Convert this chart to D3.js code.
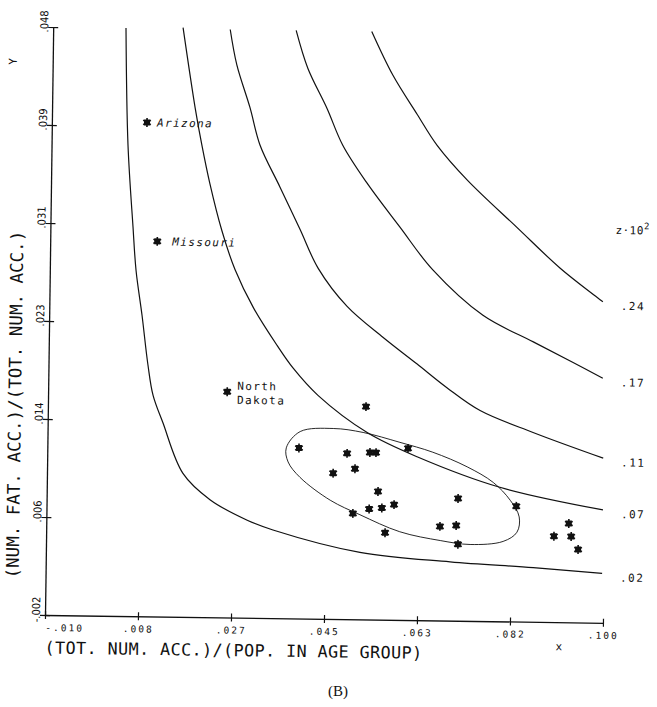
<!DOCTYPE html>
<html>
<head>
<meta charset="utf-8">
<script src="https://cdn.jsdelivr.net/npm/d3@7"></script>
<style>
  body { margin: 0; background: #fff; }
  text { fill: #111; }
</style>
</head>
<body>
<svg id="chart" width="657" height="707"></svg>
<script>
// axis ticks
const xTicks = [-0.010, 0.00833, 0.02667, 0.045, 0.06333, 0.08167, 0.100]
const xTickLabels = ['-.010', '.008', '.027', '.045', '.063', '.082', '.100']
const yTicks = [-0.002, 0.00633, 0.01467, 0.023, 0.03133, 0.03967, 0.048]
const yTickLabels = ['-.002', '.006', '.014', '.023', '.031', '.039', '.048']

// named states
const states = [
    { name: 'Arizona', x: 0.00875, y: 0.0400 },
    { name: 'Missouri', x: 0.0111, y: 0.0299 },
    { name: 'North|Dakota', x: 0.0253, y: 0.0172 },
]

// remaining states (x, y)
const others = [
    [0.0527, 0.0161], [0.0396, 0.0125], [0.0491, 0.0121], [0.0536, 0.0122],
    [0.0548, 0.0122], [0.0611, 0.0126], [0.0464, 0.0104], [0.0507, 0.0108],
    [0.0553, 0.0089], [0.0711, 0.0084], [0.0826, 0.0078], [0.0536, 0.0074],
    [0.0561, 0.0075], [0.0585, 0.0078], [0.0504, 0.0070], [0.0568, 0.0054],
    [0.0676, 0.0060], [0.0708, 0.0061], [0.0712, 0.0045], [0.0930, 0.0064],
    [0.0901, 0.0053], [0.0935, 0.0053], [0.0949, 0.0042],
]

// contour lines of z*10^2
const contourLevels = ['.02', '.07', '.11', '.17', '.24']
const contourLines = [
    [[0.00435, 0.0480], [0.00506, 0.0381], [0.00628, 0.0311], [0.0070, 0.0274], [0.0083, 0.0236],
     [0.0096, 0.0194], [0.0107, 0.0168], [0.0127, 0.0145], [0.0168, 0.0102], [0.0222, 0.0080],
     [0.0296, 0.0063], [0.0347, 0.0055], [0.0519, 0.0037], [0.0697, 0.0030], [0.0861, 0.0026],
     [0.0997, 0.0022]],
    [[0.0156, 0.0481], [0.0182, 0.0413], [0.0196, 0.0382], [0.0213, 0.0349], [0.0238, 0.0309],
     [0.0265, 0.0276], [0.0302, 0.0244], [0.0350, 0.0212], [0.0382, 0.0193], [0.0432, 0.0170],
     [0.0530, 0.0139], [0.0629, 0.0119], [0.0793, 0.0094], [0.0997, 0.0076]],
    [[0.0249, 0.0480], [0.0263, 0.0450], [0.0290, 0.0414], [0.0311, 0.0382], [0.0351, 0.0347],
     [0.0392, 0.0311], [0.0429, 0.0278], [0.0487, 0.0246], [0.0559, 0.0220], [0.0626, 0.0198],
     [0.0686, 0.0178], [0.0752, 0.0159], [0.0857, 0.0141], [0.0996, 0.0120]],
    [[0.0379, 0.0480], [0.0403, 0.0448], [0.0442, 0.0414], [0.0474, 0.0383], [0.0523, 0.0351],
     [0.0589, 0.0314], [0.0655, 0.0278], [0.0755, 0.0240], [0.0855, 0.0218], [0.0934, 0.0201],
     [0.0993, 0.0188]],
    [[0.0528, 0.0480], [0.0571, 0.0443], [0.0620, 0.0410], [0.0660, 0.0384], [0.0720, 0.0355],
     [0.0820, 0.0315], [0.0906, 0.0281], [0.0991, 0.0253]],
]

// confidence ellipse outline
const ellipse = [
    [0.0371, 0.0125], [0.0398, 0.0139], [0.0463, 0.0142], [0.0522, 0.0139], [0.0595, 0.0131],
    [0.0660, 0.0123], [0.0728, 0.0111], [0.0780, 0.0098], [0.0814, 0.0083], [0.0832, 0.0069],
    [0.0828, 0.0056], [0.0801, 0.0048], [0.0736, 0.0045], [0.0677, 0.0048], [0.0597, 0.0055],
    [0.0518, 0.0069], [0.0459, 0.0081], [0.0399, 0.0100], [0.0375, 0.0113],
]

const mono = "'DejaVu Sans Mono', monospace"
const w = 558
const h = 588

const svg = d3.select('#chart')
svg.append('rect').attr('width', 657).attr('height', 707).attr('fill', '#fff')

const x = d3.scaleLinear().domain([-0.010, 0.100]).range([0, w])
const y = d3.scaleLinear().domain([-0.002, 0.048]).range([0, -h])

// the scanned plot is slightly tilted
const g = svg.append('g').attr('transform', 'translate(45,615) rotate(0.8)')

// x axis
const gx = g.append('g')
    .call(d3.axisBottom(x).tickValues(xTicks).tickFormat((d, i) => xTickLabels[i]).tickSizeOuter(0))
gx.select('.domain').attr('stroke', '#111').attr('stroke-width', 1.3)
gx.selectAll('.tick line').attr('stroke', '#111').attr('stroke-width', 1.2).attr('y1', -4).attr('y2', 4)
gx.selectAll('.tick text')
    .attr('y', 16).attr('dy', 0)
    .attr('font-family', mono).attr('font-size', 9.5).attr('letter-spacing', 2)
    .attr('text-anchor', (d, i) => (i === 0 ? 'start' : 'middle'))

// y axis
const gy = g.append('g')
    .call(d3.axisLeft(y).tickValues(yTicks).tickFormat((d, i) => yTickLabels[i]).tickSizeOuter(0))
gy.select('.domain').attr('stroke', '#111').attr('stroke-width', 1.3)
gy.selectAll('.tick line').attr('stroke', '#111').attr('stroke-width', 1.2).attr('x1', -5).attr('x2', 5)
gy.selectAll('.tick text')
    .attr('transform', 'rotate(-90)')
    .attr('x', 6).attr('y', -5).attr('dy', 0)
    .attr('text-anchor', 'middle')
    .attr('font-family', "'DejaVu Sans Condensed', sans-serif").attr('font-size', 11)

// axis titles
g.append('text')
    .attr('x', 0).attr('y', 38.5)
    .attr('font-family', mono).attr('font-size', 16.8).attr('letter-spacing', 0.4)
    .text('(TOT. NUM. ACC.)/(POP. IN AGE GROUP)')
g.append('text')
    .attr('x', 511).attr('y', 28)
    .attr('font-family', mono).attr('font-size', 11)
    .text('x')
g.append('text')
    .attr('transform', 'translate(-27,-210) rotate(-90)')
    .attr('text-anchor', 'middle')
    .attr('font-family', mono).attr('font-size', 17.5)
    .text('(NUM. FAT. ACC.)/(TOT. NUM. ACC.)')
g.append('text')
    .attr('transform', 'translate(-36,-553) rotate(-90)')
    .attr('text-anchor', 'middle')
    .attr('font-family', mono).attr('font-size', 11)
    .text('Y')

// contours
const line = d3.line().x((d) => x(d[0])).y((d) => y(d[1])).curve(d3.curveCatmullRom)
g.selectAll('path.contour')
    .data(contourLines)
    .join('path')
    .attr('class', 'contour')
    .attr('d', line)
    .attr('fill', 'none')
    .attr('stroke', '#111')
    .attr('stroke-width', 1.2)

g.selectAll('text.level')
    .data(contourLines)
    .join('text')
    .attr('class', 'level')
    .attr('x', (d) => x(d[d.length - 1][0]) + 18)
    .attr('y', (d) => y(d[d.length - 1][1]) + 8)
    .attr('font-family', mono).attr('font-size', 11).attr('letter-spacing', 1.5)
    .text((d, i) => contourLevels[i])

const zl = g.append('text')
    .attr('x', 565).attr('y', -389)
    .attr('font-family', mono).attr('font-size', 11).attr('letter-spacing', 0.5)
zl.append('tspan').text('z\u00b710')
zl.append('tspan').attr('dy', -5).attr('font-size', 9).text('2')

// ellipse
g.append('path')
    .datum(ellipse)
    .attr('d', d3.line().x((d) => x(d[0])).y((d) => y(d[1])).curve(d3.curveCatmullRomClosed))
    .attr('fill', 'none')
    .attr('stroke', '#111')
    .attr('stroke-width', 0.9)

// star markers
function star(sel) {
    sel.append('rect').attr('x', -3).attr('y', -3).attr('width', 6).attr('height', 6).attr('fill', '#111')
    sel.append('path')
        .attr('d', d3.symbol(d3.symbolAsterisk, 55)())
        .attr('fill', 'none').attr('stroke', '#111').attr('stroke-width', 1.6)
}

g.selectAll('g.pt')
    .data(others)
    .join('g')
    .attr('class', 'pt')
    .attr('transform', (d) => `translate(${x(d[0])},${y(d[1])})`)
    .call(star)

const sg = g.selectAll('g.state')
    .data(states)
    .join('g')
    .attr('class', 'state')
    .attr('transform', (d) => `translate(${x(d.x)},${y(d.y)})`)
    .call(star)

sg.each(function (d) {
    const parts = d.name.split('|')
    const t = d3.select(this).append('text')
        .attr('font-family', mono).attr('font-size', 11).attr('letter-spacing', 1.4)
        .attr('font-style', parts.length > 1 ? 'normal' : 'italic')
    if (parts.length > 1) {
        t.attr('x', 10).attr('y', -2)
        parts.forEach((p, i) => t.append('tspan').attr('x', 10).attr('dy', i ? 14 : 0).text(p))
    } else {
        t.attr('x', d.name === 'Missouri' ? 15 : 10).attr('y', 4).text(d.name)
    }
})

// caption
svg.append('text')
    .attr('x', 338).attr('y', 696)
    .attr('text-anchor', 'middle')
    .attr('font-family', "'Liberation Serif', serif").attr('font-size', 15)
    .text('(B)')
</script>
</body>
</html>
